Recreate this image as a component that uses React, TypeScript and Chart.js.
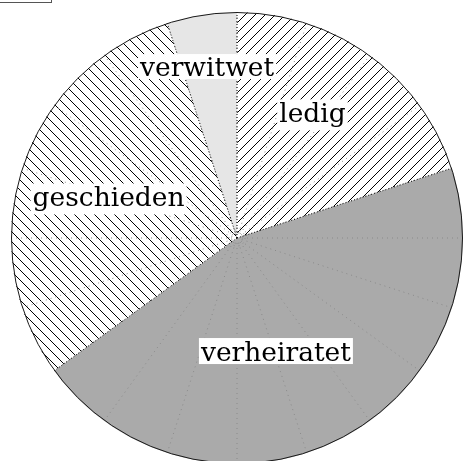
import React, { useEffect, useRef } from "react";
import { Chart, registerables } from "chart.js";

Chart.register(...registerables);

// ---- data ----
const categories = ["ledig", "verheiratet", "geschieden", "verwitwet"];
const shares = [20, 45, 30, 5];
const gridStepPercent = 5;

// ---- styles ----
const sliceStyles = ["hatch-right", "#aaaaaa", "hatch-left", "#e6e6e6"];
const labelPlacement = [
  { dAngle: -4.5, r: 0.639 },
  { dAngle: 8, r: 0.529 },
  { dAngle: -1.1, r: 0.594 },
  { dAngle: -0.9, r: 0.77 },
];

function makeHatch(dir: "right" | "left"): CanvasPattern | string {
  const s = 10;
  const c = document.createElement("canvas");
  c.width = s;
  c.height = s;
  const g = c.getContext("2d");
  if (!g) return "#fff";
  g.fillStyle = "#ffffff";
  g.fillRect(0, 0, s, s);
  g.strokeStyle = "#000000";
  g.lineWidth = 1;
  g.beginPath();
  if (dir === "right") {
    g.moveTo(0, s);
    g.lineTo(s, 0);
    g.moveTo(-1, 1);
    g.lineTo(1, -1);
    g.moveTo(s - 1, s + 1);
    g.lineTo(s + 1, s - 1);
  } else {
    g.moveTo(0, 0);
    g.lineTo(s, s);
    g.moveTo(-1, s - 1);
    g.lineTo(1, s + 1);
    g.moveTo(s - 1, -1);
    g.lineTo(s + 1, 1);
  }
  g.stroke();
  const ctx = document.createElement("canvas").getContext("2d")!;
  return ctx.createPattern(c, "repeat") || "#fff";
}

const overlayPlugin = {
  id: "overlay",
  afterDatasetsDraw(chart: any) {
    const ctx: CanvasRenderingContext2D = chart.ctx;
    const meta = chart.getDatasetMeta(0);
    if (!meta.data.length) return;
    const a0 = meta.data[0].getProps(["x", "y", "outerRadius"], true);
    const cx = a0.x;
    const cy = a0.y;
    const R = a0.outerRadius;
    ctx.save();

    // radial dotted grid
    ctx.strokeStyle = "#8a8a8a";
    ctx.lineWidth = 1;
    ctx.setLineDash([1, 4]);
    for (let p = 0; p < 100; p += gridStepPercent) {
      const a = -Math.PI / 2 + (p / 100) * Math.PI * 2;
      ctx.beginPath();
      ctx.moveTo(cx, cy);
      ctx.lineTo(cx + Math.cos(a) * R, cy + Math.sin(a) * R);
      ctx.stroke();
    }
    ctx.beginPath();
    ctx.arc(cx, cy, 8, 0, Math.PI * 2);
    ctx.stroke();

    // slice boundaries
    ctx.strokeStyle = "#000000";
    ctx.setLineDash([1, 2]);
    meta.data.forEach((arc: any) => {
      const { startAngle } = arc.getProps(["startAngle"], true);
      ctx.beginPath();
      ctx.moveTo(cx, cy);
      ctx.lineTo(cx + Math.cos(startAngle) * R, cy + Math.sin(startAngle) * R);
      ctx.stroke();
    });

    // outer circle
    ctx.setLineDash([]);
    ctx.strokeStyle = "#1a1a1a";
    ctx.beginPath();
    ctx.arc(cx, cy, R - 0.5, 0, Math.PI * 2);
    ctx.stroke();

    // labels
    ctx.font = '26.5px "DejaVu Serif"';
    ctx.textAlign = "center";
    ctx.textBaseline = "alphabetic";
    meta.data.forEach((arc: any, i: number) => {
      const { startAngle, endAngle } = arc.getProps(["startAngle", "endAngle"], true);
      const pl = labelPlacement[i];
      const mid = (startAngle + endAngle) / 2 + (pl.dAngle * Math.PI) / 180;
      const px = cx + Math.cos(mid) * R * pl.r;
      const py = cy + Math.sin(mid) * R * pl.r;
      const text = categories[i];
      const m = ctx.measureText(text);
      const asc = m.actualBoundingBoxAscent;
      const desc = m.actualBoundingBoxDescent;
      const pad = 3;
      const h = asc + desc + pad * 2;
      const w = m.width + 4;
      const top = py - h / 2;
      ctx.fillStyle = "#ffffff";
      ctx.fillRect(px - w / 2, top, w, h);
      ctx.fillStyle = "#000000";
      ctx.fillText(text, px, top + pad + asc);
    });
    ctx.restore();
  },
};

export default function App() {
  const ref = useRef<HTMLCanvasElement>(null);
  useEffect(() => {
    const canvas = ref.current;
    if (!canvas) return;
    const colors = sliceStyles.map((s) =>
      s === "hatch-right" ? makeHatch("right") : s === "hatch-left" ? makeHatch("left") : s
    );
    const chart = new Chart(canvas, {
      type: "pie",
      data: {
        labels: categories,
        datasets: [
          {
            data: shares,
            backgroundColor: colors as any,
            borderWidth: 0,
          },
        ],
      },
      options: {
        responsive: false,
        animation: false,
        rotation: 0,
        layout: { padding: { left: 11, right: 1, top: 12, bottom: 6 } },
        plugins: {
          legend: { display: false },
          tooltip: { enabled: false },
          title: { display: false },
        },
      },
      plugins: [overlayPlugin],
    });
    return () => chart.destroy();
  }, []);

  return (
    <div
      style={{
        position: "absolute",
        left: 0,
        top: 0,
        width: 464,
        height: 461,
        overflow: "hidden",
        background: "#ffffff",
      }}
    >
      <div
        style={{
          position: "absolute",
          left: -2,
          top: -19,
          width: 54,
          height: 22,
          boxSizing: "border-box",
          border: "1px solid #555",
        }}
      />
      <canvas ref={ref} width={464} height={470} style={{ display: "block" }} />
    </div>
  );
}
